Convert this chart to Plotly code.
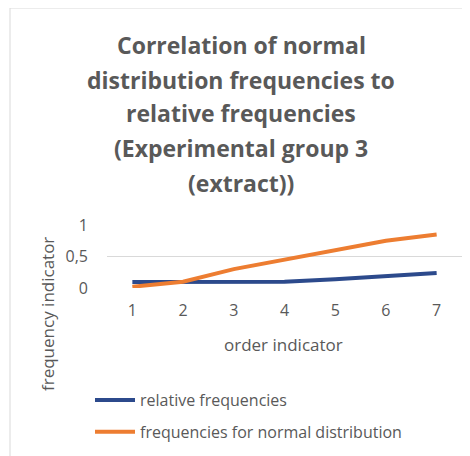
import plotly.graph_objects as go

categories = [1, 2, 3, 4, 5, 6, 7]
relative_freq = [0.095, 0.10, 0.11, 0.10, 0.14, 0.19, 0.24]
normal_freq = [0.02, 0.10, 0.30, 0.45, 0.61, 0.75, 0.85]
y_ticks = [0, 0.5, 1]
y_tick_labels = ["0", "0,5", "1"]
title_lines = ["Correlation of normal", "distribution frequencies to",
               "relative frequencies", "(Experimental group 3", "(extract))"]

# page body has an 8px margin; all pixel targets below are shifted by it
OFF = 8
W, H = 470, 456
L, R, T, B = 107 - OFF, 462 - OFF, 225 - OFF, 288 - OFF
font = "Open Sans, sans-serif"
grey = "#595959"


def px(x):
    return (x - OFF - L) / (R - L)


def py(y):
    return (B - (y - OFF)) / (B - T)


fig = go.Figure()
fig.add_trace(go.Scatter(x=categories, y=relative_freq, mode="lines",
                         name="relative frequencies", legendgroup="a",
                         line=dict(color="#2C4A8C", width=4)))
fig.add_trace(go.Scatter(x=categories, y=normal_freq, mode="lines",
                         name="frequencies for normal distribution", legendgroup="b",
                         line=dict(color="#ED7D31", width=4)))

annotations = []
ys = [45, 80, 113, 148, 183]
for t, yy in zip(title_lines, ys):
    annotations.append(dict(text="<b>" + t + "</b>", xref="paper", yref="paper",
                            x=px(241), y=py(yy),
                            showarrow=False, xanchor="center", yanchor="middle",
                            font=dict(family=font, size=23, color=grey)))
annotations.append(dict(text="frequency indicator", xref="paper", yref="paper",
                        x=px(47), y=py(314), textangle=-90,
                        showarrow=False, xanchor="center", yanchor="middle",
                        font=dict(family=font, size=17, color=grey)))
annotations.append(dict(text="order indicator", xref="paper", yref="paper",
                        x=px(283), y=py(344),
                        showarrow=False, xanchor="center", yanchor="middle",
                        font=dict(family=font, size=17, color=grey)))

fig.update_layout(
    width=W, height=H,
    margin=dict(l=L, r=W - R, t=T, b=H - B),
    paper_bgcolor="white", plot_bgcolor="white",
    showlegend=True,
    legend=dict(x=px(90), y=py(383), xanchor="left", yanchor="top",
                font=dict(family=font, size=16, color=grey),
                tracegroupgap=8, itemwidth=40, bgcolor="rgba(0,0,0,0)"),
    xaxis=dict(range=[0.5, 7.5], tickvals=categories, showgrid=False, zeroline=False,
               showline=False, ticks="", ticklabelstandoff=11,
               tickfont=dict(family=font, size=16, color=grey)),
    yaxis=dict(range=[0, 1], tickvals=y_ticks, ticktext=y_tick_labels, showgrid=True,
               gridcolor="#D9D9D9", gridwidth=1, zeroline=False, showline=False, ticks="",
               ticklabelstandoff=18,
               tickfont=dict(family=font, size=16, color=grey)),
    annotations=annotations,
    shapes=[dict(type="rect", xref="paper", yref="paper",
                 x0=px(10), x1=px(490), y0=py(480), y1=py(8),
                 line=dict(color="#D9D9D9", width=1), layer="below")],
)
fig.write_html("out.html")
